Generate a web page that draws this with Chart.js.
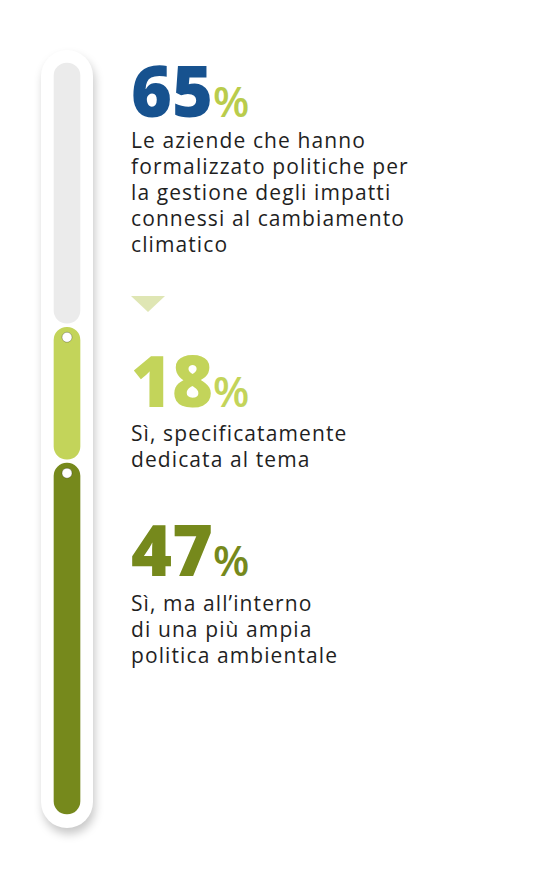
<!DOCTYPE html>
<html>
<head>
<meta charset="utf-8">
<script src="https://cdn.jsdelivr.net/npm/chart.js@4"></script>
<style>
body { margin:0; width:539px; height:887px; background:#fff; position:relative; font-family:"Open Sans", sans-serif; overflow:hidden; }
#pill { position:absolute; left:41px; top:50px; width:52px; height:778px; border-radius:26px; background:#fff; box-shadow:2px 6px 10px rgba(0,0,0,0.22); }
#barBox { position:absolute; left:52px; top:61px; width:30px; height:755px; }
.blk { position:absolute; left:131px; color:#1f1f1f; font-size:21px; line-height:26px; letter-spacing:1.1px; white-space:nowrap; }
.num { font-weight:800; font-size:70px; line-height:56px; letter-spacing:0px; }
.pc { font-size:42px; font-weight:600; letter-spacing:0; }
#tri { position:absolute; left:131px; top:296px; width:0; height:0; border-left:17px solid transparent; border-right:17px solid transparent; border-top:16px solid #dfe6b4; }
</style>
</head>
<body>
<div id="pill"></div>
<div id="barBox"><canvas id="bar"></canvas></div>

<div class="blk" style="top:62px"><span class="num" style="color:#17528f">65</span><span class="pc" style="color:#b9cc4c">%</span></div>
<div class="blk" style="top:127px">Le aziende che hanno<br>formalizzato politiche per<br>la gestione degli impatti<br>connessi al cambiamento<br>climatico</div>
<div id="tri"></div>
<div class="blk" style="top:352px"><span class="num" style="color:#c3d45a">18</span><span class="pc" style="color:#c3d45a">%</span></div>
<div class="blk" style="top:420px">Sì, specificatamente<br>dedicata al tema</div>
<div class="blk" style="top:521px"><span class="num" style="color:#76891c">47</span><span class="pc" style="color:#76891c">%</span></div>
<div class="blk" style="top:590px">Sì, ma all’interno<br>di una più ampia<br>politica ambientale</div>

<script>
// values bottom to top
const labels = ['Aziende'];
const generalValue = 47;
const specificValue = 18;
const noPolicyValue = 35;

// white dots near the top of the green segments
const dotPlugin = {
    id: 'dots',
    afterDatasetsDraw(chart) {
        const ctx = chart.ctx;
        [0, 1].forEach(i => {
            const el = chart.getDatasetMeta(i).data[0];
            ctx.beginPath();
            ctx.arc(el.x, el.y + 12, 5, 0, Math.PI * 2);
            ctx.fillStyle = '#fff';
            ctx.fill();
            ctx.strokeStyle = 'rgba(0,0,0,0.25)';
            ctx.lineWidth = 1;
            ctx.stroke();
        });
    }
};

const a = generalValue, b = a + specificValue, c = b + noPolicyValue;
new Chart(document.getElementById('bar'), {
    type: 'bar',
    data: {
        labels: labels,
        datasets: [
            { data: [[0, a]], backgroundColor: '#76891c' },
            { data: [[a, b]], backgroundColor: '#c3d45a' },
            { data: [[b, c]], backgroundColor: '#ebebeb' }
        ].map(d => Object.assign(d, {
            borderRadius: 15, borderSkipped: false, borderWidth: 2,
            borderColor: '#ffffff', barPercentage: 1, categoryPercentage: 1, grouped: false
        }))
    },
    options: {
        responsive: true,
        maintainAspectRatio: false,
        animation: false,
        layout: { padding: 0 },
        plugins: { legend: { display: false }, tooltip: { enabled: false } },
        scales: {
            x: { display: false },
            y: { display: false, min: 0, max: 100 }
        }
    },
    plugins: [dotPlugin]
});
</script>
</body>
</html>
